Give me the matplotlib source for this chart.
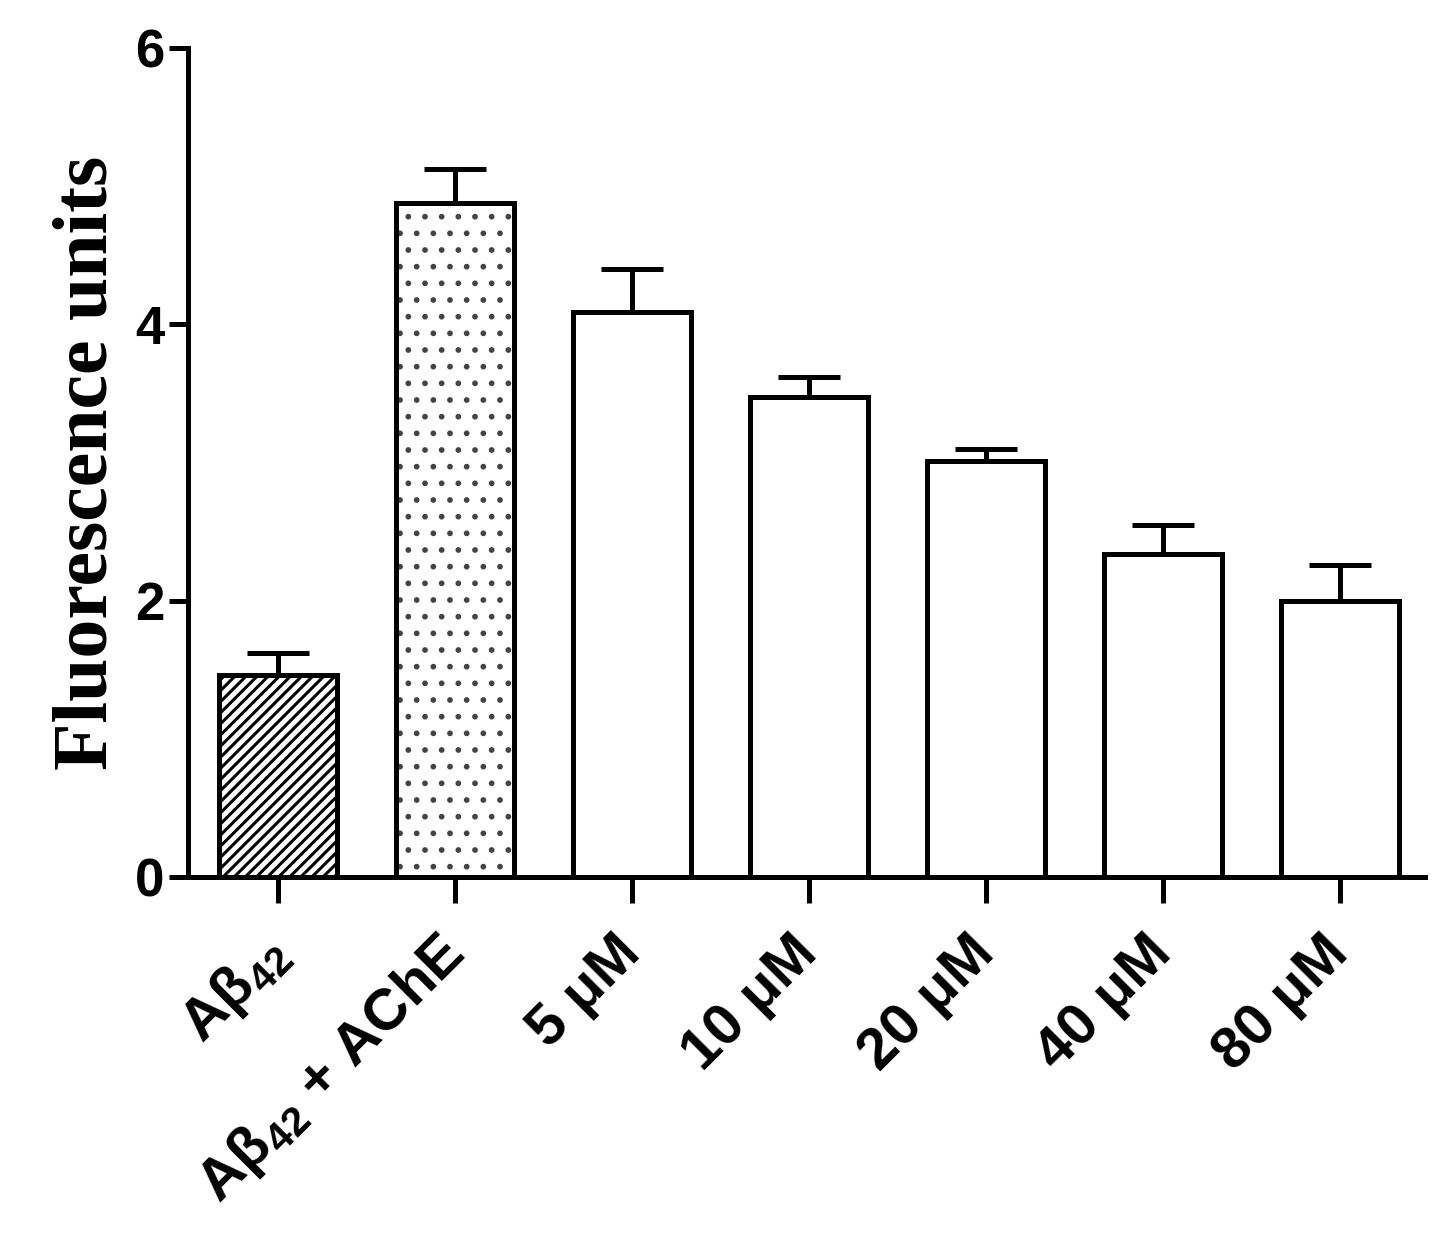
import numpy as np
import matplotlib
matplotlib.use('Agg')
import matplotlib.pyplot as plt
import matplotlib.transforms as mtransforms

# data
groups = ['A\u03b2$_{42}$', 'A\u03b2$_{42}$ + AChE', '5 \u03bcM', '10 \u03bcM', '20 \u03bcM', '40 \u03bcM', '80 \u03bcM']
means = [1.46, 4.88, 4.09, 3.47, 3.01, 2.34, 2.00]
sems = [0.16, 0.24, 0.31, 0.15, 0.09, 0.21, 0.26]
hatches = ['///', '.', '', '', '', '', '']
hatch_colors = ['black', '#444444', 'black', 'black', 'black', 'black', 'black']

plt.rcParams['font.family'] = ['Liberation Sans', 'DejaVu Sans']
plt.rcParams['font.weight'] = 'bold'
plt.rcParams['mathtext.fontset'] = 'custom'
plt.rcParams['mathtext.rm'] = 'Liberation Sans:bold'
plt.rcParams['mathtext.it'] = 'Liberation Sans:bold'
plt.rcParams['mathtext.bf'] = 'Liberation Sans:bold'
plt.rcParams['hatch.linewidth'] = 2.2

fig = plt.figure(figsize=(14.45, 12.43), dpi=100)
ax = fig.add_axes([0.130, 0.2945, 0.856, 0.667])

x = np.arange(len(groups))
w = 0.667

# error bars (upper only), drawn under the bars
ax.errorbar(x, means, yerr=[np.zeros(len(sems)), sems], fmt='none', ecolor='black',
            elinewidth=3.6, capsize=22.5, capthick=3.6, zorder=1)

# fills with hatch patterns, then the black outlines
fills = ax.bar(x, means, w, color='white', edgecolor=hatch_colors, hatch=hatches, linewidth=0, zorder=2)
# thinner strokes for the dot pattern
if hasattr(fills[1], 'set_hatch_linewidth'):
    fills[1].set_hatch_linewidth(1.7)
ax.bar(x, means, w, facecolor='none', edgecolor='black', linewidth=3.6, zorder=3)

ax.set_xlim(-0.51, 6.48)
ax.set_ylim(0, 6)
ax.set_yticks([0, 2, 4, 6])
ax.set_xticks(x)
ax.set_xticklabels(groups, rotation=45, ha='right', va='top', rotation_mode='anchor', fontsize=42)
ax.tick_params(axis='y', labelsize=38, length=14, width=3.6, pad=3)
ax.tick_params(axis='x', length=19, width=3.6, pad=16)

# nudge the rotated labels left so their ends sit over the ticks
shift = mtransforms.ScaledTranslation(-0.19, 0, fig.dpi_scale_trans)
for lab in ax.get_xticklabels():
    lab.set_transform(lab.get_transform() + shift)

for s in ['top', 'right']:
    ax.spines[s].set_visible(False)
for s in ['left', 'bottom']:
    ax.spines[s].set_linewidth(3.6)
ax.spines['left'].set_bounds(0, 6)

ax.set_ylabel('Fluorescence units', fontsize=56, fontweight='bold',
              family=['Liberation Serif', 'DejaVu Serif'], labelpad=8)

fig.savefig('out.png', dpi=100)
